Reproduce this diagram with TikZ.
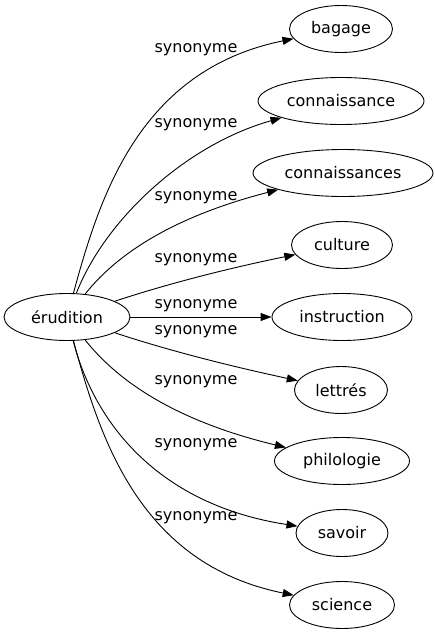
\documentclass[tikz,border=0pt]{standalone}
\usepackage{fontspec}
\setmainfont{DejaVu Sans}
\usetikzlibrary{arrows.meta,shapes.geometric}
\begin{document}
\begin{tikzpicture}[x=1pt,y=-1pt,
  word/.style={draw,ellipse,line width=0.9pt,inner sep=0pt,minimum height=47pt,font=\fontsize{16}{19}\selectfont},
  rel/.style={draw,line width=0.9pt,-{Triangle[length=11pt,width=8pt]}},
  lab/.style={font=\fontsize{16}{19}\selectfont,inner sep=0pt}]
\useasboundingbox (0,0) rectangle (435,635);
\node[word,minimum width=126pt] (eru) at (67,317) {érudition};
\node[word,minimum width=103pt] (bagage) at (341,29) {bagage};
\node[word,minimum width=166pt] (conn) at (341,101) {connaissance};
\node[word,minimum width=180pt] (conns) at (343,173) {connaissances};
\node[word,minimum width=101pt] (culture) at (342,245) {culture};
\node[word,minimum width=140pt] (instr) at (342,317) {instruction};
\node[word,minimum width=93pt] (lettres) at (341,390) {lettrés};
\node[word,minimum width=135pt] (philo) at (342,461) {philologie};
\node[word,minimum width=92pt] (savoir) at (342,533) {savoir};
\node[word,minimum width=105pt] (science) at (342,605) {science};
\draw[rel] (eru) .. controls (100,195) and (140,70) .. (bagage);
\draw[rel] (eru) .. controls (105,220) and (185,145) .. (conn);
\draw[rel] (eru) .. controls (120,250) and (180,215) .. (conns);
\draw[rel] (eru) .. controls (170,283) and (230,268) .. (culture);
\draw[rel] (eru) -- (instr);
\draw[rel] (eru) .. controls (170,351) and (230,366) .. (lettres);
\draw[rel] (eru) .. controls (120,384) and (180,422) .. (philo);
\draw[rel] (eru) .. controls (95,425) and (160,505) .. (savoir);
\draw[rel] (eru) .. controls (100,439) and (140,564) .. (science);
\node[lab] (l1) at (196,50) {synonyme};
\node[lab] (l2) at (196,125) {synonyme};
\node[lab] (l3) at (196,198) {synonyme};
\node[lab] (l4) at (196,260) {synonyme};
\node[lab] (l5) at (196,306) {synonyme};
\node[lab] (l6) at (196,332) {synonyme};
\node[lab] (l7) at (196,382) {synonyme};
\node[lab] (l8) at (196,445) {synonyme};
\node[lab] (l9) at (196,518) {synonyme};
\end{tikzpicture}
\end{document}
